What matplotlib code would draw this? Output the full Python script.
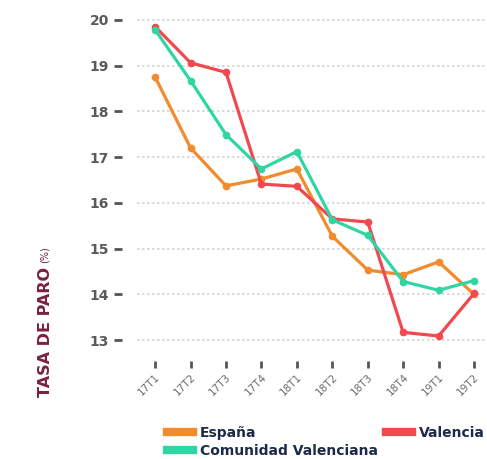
import matplotlib
matplotlib.use("Agg")
import matplotlib.pyplot as plt

quarters = ["17T1", "17T2", "17T3", "17T4", "18T1", "18T2", "18T3", "18T4", "19T1", "19T2"]
espana = [18.75, 17.20, 16.37, 16.52, 16.74, 15.27, 14.53, 14.43, 14.71, 14.00]
comunidad = [19.78, 18.67, 17.49, 16.74, 17.12, 15.63, 15.29, 14.28, 14.09, 14.30]
valencia = [19.85, 19.06, 18.85, 16.41, 16.36, 15.65, 15.58, 13.17, 13.09, 14.02]
yticks = [13, 14, 15, 16, 17, 18, 19, 20]

c_esp = "#f28a2e"
c_cv = "#2fd6a3"
c_val = "#f2484f"

W, H = 487, 459
fig = plt.figure(figsize=(W / 100, H / 100), dpi=100)
fig.patch.set_facecolor("white")
ax = fig.add_axes([137 / W, 1 - 347 / H, (490 - 137) / W, (347 - 6) / H])

x = list(range(len(quarters)))
lw = 2.3
ms = 4.5
l_esp, = ax.plot(x, espana, color=c_esp, lw=lw, marker="o", ms=ms, label="España", zorder=3)
l_val, = ax.plot(x, valencia, color=c_val, lw=lw, marker="o", ms=ms, label="Valencia", zorder=4)
l_cv, = ax.plot(x, comunidad, color=c_cv, lw=lw, marker="o", ms=ms, label="Comunidad Valenciana", zorder=5)

ax.set_xlim(-0.51, 9.45)
ax.set_ylim(12.85, 20.3)
ax.set_yticks(yticks)
ax.set_xticks(x)
ax.set_xticklabels(quarters)
ax.yaxis.grid(True, color="#d4d4d4", linestyle=(0, (1.5, 1.5)), linewidth=1.2)
ax.set_axisbelow(True)
for s in ["top", "right"]:
    ax.spines[s].set_visible(False)
ax.spines["left"].set_position(("outward", 11))
ax.spines["bottom"].set_position(("outward", 10))
ax.spines["left"].set_visible(False)
ax.spines["bottom"].set_visible(False)
ax.tick_params(axis="y", length=6, width=2, color="#555555", labelsize=10,
               labelcolor="#5a5a5a", pad=3)
ax.tick_params(axis="x", length=5, width=2, color="#555555", labelsize=7.5,
               labelcolor="#6a6a6a", pad=3, direction="out", labelrotation=45)
for t in ax.get_yticklabels():
    t.set_fontweight("bold")
for t in ax.get_xticklabels():
    t.set_ha("right")
    t.set_rotation_mode("anchor")

fig.text(46 / W, 1 - 332 / H, "TASA DE PARO", rotation=90, ha="center", va="center",
         fontsize=11.5, fontweight="bold", color="#7a2040")
fig.text(45 / W, 1 - 255 / H, "(%)", rotation=90, ha="center", va="center",
         fontsize=7, color="#7a2040")

leg = fig.legend(handles=[l_esp, l_cv, l_val], ncol=2, loc="center left",
                 bbox_to_anchor=(167 / W, 1 - 442 / H), frameon=False,
                 prop={"weight": "bold", "size": 10}, handlelength=1.9,
                 handletextpad=0.45, columnspacing=0.6, labelspacing=0.3,
                 borderaxespad=0, borderpad=0)
for line in leg.get_lines():
    line.set_linewidth(6)
    line.set_marker("")
for t in leg.get_texts():
    t.set_color("#1c2a4a")

fig.savefig("out.png", dpi=100, facecolor="white")
